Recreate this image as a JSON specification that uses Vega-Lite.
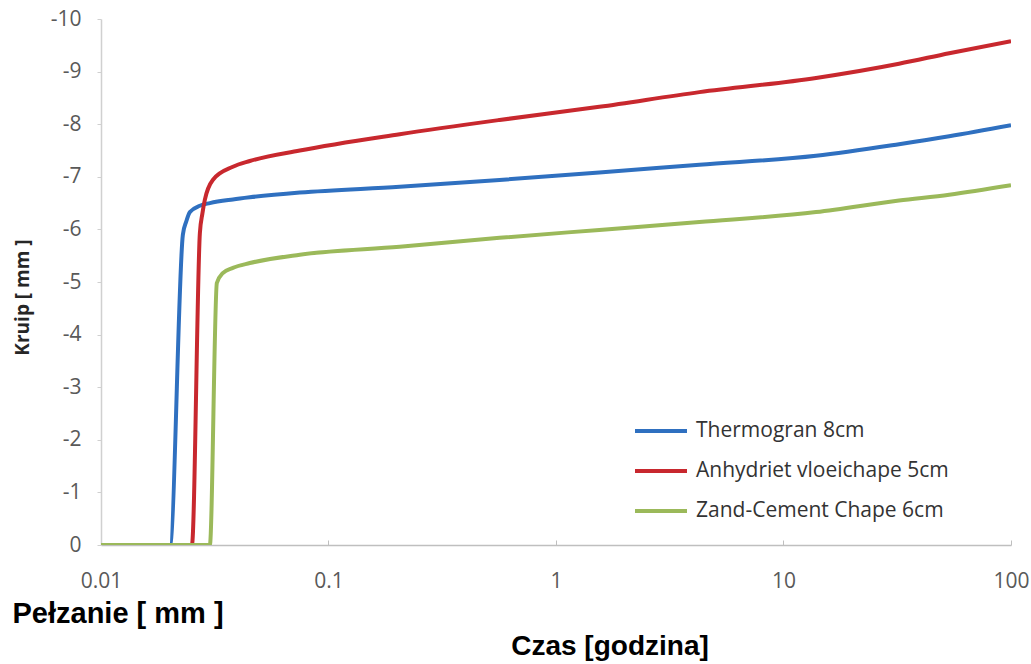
{
  "$schema": "https://vega.github.io/schema/vega-lite/v6.json",
  "width": 910,
  "height": 526,
  "autosize": {"type": "none"},
  "padding": {"left": 101, "top": 19, "right": 20, "bottom": 119},
  "background": "white",
  "title": {
    "text": "Czas [godzina]",
    "orient": "bottom",
    "anchor": "middle",
    "frame": "group",
    "font": "Liberation Sans",
    "fontSize": 28,
    "fontWeight": "bold",
    "color": "#000000",
    "offset": 5,
    "dx": 54
  },
  "config": {
    "view": {"stroke": null},
    "axis": {"grid": false}
  },
  "data": {
    "values": [
      {"series": "Thermogran 8cm", "t": 0.01, "v": 0},
      {"series": "Thermogran 8cm", "t": 0.0201, "v": 0},
      {"series": "Thermogran 8cm", "t": 0.0229, "v": -5.9},
      {"series": "Thermogran 8cm", "t": 0.0237, "v": -6.15},
      {"series": "Thermogran 8cm", "t": 0.0246, "v": -6.33},
      {"series": "Thermogran 8cm", "t": 0.0272, "v": -6.45},
      {"series": "Thermogran 8cm", "t": 0.0301, "v": -6.5},
      {"series": "Thermogran 8cm", "t": 0.038, "v": -6.57},
      {"series": "Thermogran 8cm", "t": 0.0451, "v": -6.61},
      {"series": "Thermogran 8cm", "t": 0.0748, "v": -6.7},
      {"series": "Thermogran 8cm", "t": 0.2056, "v": -6.81},
      {"series": "Thermogran 8cm", "t": 0.565, "v": -6.94},
      {"series": "Thermogran 8cm", "t": 1.55, "v": -7.08},
      {"series": "Thermogran 8cm", "t": 4.27, "v": -7.23},
      {"series": "Thermogran 8cm", "t": 13.9, "v": -7.4},
      {"series": "Thermogran 8cm", "t": 32.2, "v": -7.62},
      {"series": "Thermogran 8cm", "t": 53.5, "v": -7.77},
      {"series": "Thermogran 8cm", "t": 100, "v": -7.98},
      {"series": "Anhydriet vloeichape 5cm", "t": 0.01, "v": 0},
      {"series": "Anhydriet vloeichape 5cm", "t": 0.0251, "v": 0},
      {"series": "Anhydriet vloeichape 5cm", "t": 0.0272, "v": -5.93},
      {"series": "Anhydriet vloeichape 5cm", "t": 0.0279, "v": -6.3},
      {"series": "Anhydriet vloeichape 5cm", "t": 0.0286, "v": -6.56},
      {"series": "Anhydriet vloeichape 5cm", "t": 0.031, "v": -6.94},
      {"series": "Anhydriet vloeichape 5cm", "t": 0.038, "v": -7.19},
      {"series": "Anhydriet vloeichape 5cm", "t": 0.0451, "v": -7.3},
      {"series": "Anhydriet vloeichape 5cm", "t": 0.0748, "v": -7.5},
      {"series": "Anhydriet vloeichape 5cm", "t": 0.2056, "v": -7.81},
      {"series": "Anhydriet vloeichape 5cm", "t": 0.565, "v": -8.08},
      {"series": "Anhydriet vloeichape 5cm", "t": 1.55, "v": -8.33},
      {"series": "Anhydriet vloeichape 5cm", "t": 4.27, "v": -8.61},
      {"series": "Anhydriet vloeichape 5cm", "t": 13.9, "v": -8.88},
      {"series": "Anhydriet vloeichape 5cm", "t": 32.2, "v": -9.15},
      {"series": "Anhydriet vloeichape 5cm", "t": 53.5, "v": -9.35},
      {"series": "Anhydriet vloeichape 5cm", "t": 100, "v": -9.58},
      {"series": "Zand-Cement Chape 6cm", "t": 0.01, "v": 0},
      {"series": "Zand-Cement Chape 6cm", "t": 0.0301, "v": 0},
      {"series": "Zand-Cement Chape 6cm", "t": 0.0323, "v": -4.98},
      {"series": "Zand-Cement Chape 6cm", "t": 0.0343, "v": -5.17},
      {"series": "Zand-Cement Chape 6cm", "t": 0.038, "v": -5.27},
      {"series": "Zand-Cement Chape 6cm", "t": 0.0451, "v": -5.36},
      {"series": "Zand-Cement Chape 6cm", "t": 0.0748, "v": -5.52},
      {"series": "Zand-Cement Chape 6cm", "t": 0.2056, "v": -5.67},
      {"series": "Zand-Cement Chape 6cm", "t": 0.565, "v": -5.84},
      {"series": "Zand-Cement Chape 6cm", "t": 1.55, "v": -5.99},
      {"series": "Zand-Cement Chape 6cm", "t": 4.27, "v": -6.14},
      {"series": "Zand-Cement Chape 6cm", "t": 13.9, "v": -6.33},
      {"series": "Zand-Cement Chape 6cm", "t": 32.2, "v": -6.55},
      {"series": "Zand-Cement Chape 6cm", "t": 53.5, "v": -6.66},
      {"series": "Zand-Cement Chape 6cm", "t": 100, "v": -6.84}
    ]
  },
  "mark": {"type": "line", "strokeWidth": 4, "interpolate": "monotone", "clip": true},
  "encoding": {
    "x": {
      "field": "t",
      "type": "quantitative",
      "scale": {"type": "log", "domain": [0.01, 100], "nice": false},
      "axis": {
        "values": [0.01, 0.1, 1, 10, 100],
        "labelExpr": "'' + datum.value",
        "labelFlush": false,
        "labelOverlap": false,
        "labelFont": "Open Sans",
        "labelFontSize": 21,
        "labelColor": "#595959",
        "labelPadding": 30,
        "tickSize": -5,
        "tickColor": "#bfbfbf",
        "domainColor": "#bfbfbf",
        "domainWidth": 1.5,
        "title": "Pełzanie [ mm ]",
        "titleFont": "Liberation Sans",
        "titleFontSize": 29,
        "titleFontWeight": "bold",
        "titleColor": "#000000",
        "titleAnchor": "start",
        "titleAlign": "left",
        "titleBaseline": "alphabetic",
        "titleAngle": 0,
        "titleX": -89,
        "titleY": 77
      }
    },
    "y": {
      "field": "v",
      "type": "quantitative",
      "scale": {"domain": [-10, 0], "reverse": true, "nice": false, "zero": false},
      "axis": {
        "values": [-10, -9, -8, -7, -6, -5, -4, -3, -2, -1, 0],
        "labelExpr": "'' + datum.value",
        "labelFont": "Open Sans",
        "labelFontSize": 21,
        "labelColor": "#595959",
        "labelPadding": 16,
        "tickSize": 4,
        "tickColor": "#d0d0d0",
        "domainColor": "#d0d0d0",
        "domainWidth": 1.5,
        "title": "Kruip [ mm ]",
        "titleFont": "Open Sans",
        "titleFontSize": 19,
        "titleFontWeight": "bold",
        "titleColor": "#262626",
        "titleAngle": 270,
        "titleAlign": "center",
        "titleBaseline": "middle",
        "titleX": -79,
        "titleY": 278
      }
    },
    "color": {
      "field": "series",
      "type": "nominal",
      "sort": ["Thermogran 8cm", "Anhydriet vloeichape 5cm", "Zand-Cement Chape 6cm"],
      "scale": {
        "domain": ["Thermogran 8cm", "Anhydriet vloeichape 5cm", "Zand-Cement Chape 6cm"],
        "range": ["#2f70c0", "#c8282e", "#9bb95a"]
      },
      "legend": {
        "title": null,
        "orient": "none",
        "legendX": 564,
        "legendY": 400,
        "padding": 0,
        "symbolType": "M-4.2,0H1",
        "symbolSize": 400,
        "symbolStrokeWidth": 4,
        "labelFont": "Open Sans",
        "labelFontSize": 21,
        "labelColor": "#333333",
        "labelOffset": 7,
        "labelLimit": 0,
        "rowPadding": 18
      }
    }
  }
}
